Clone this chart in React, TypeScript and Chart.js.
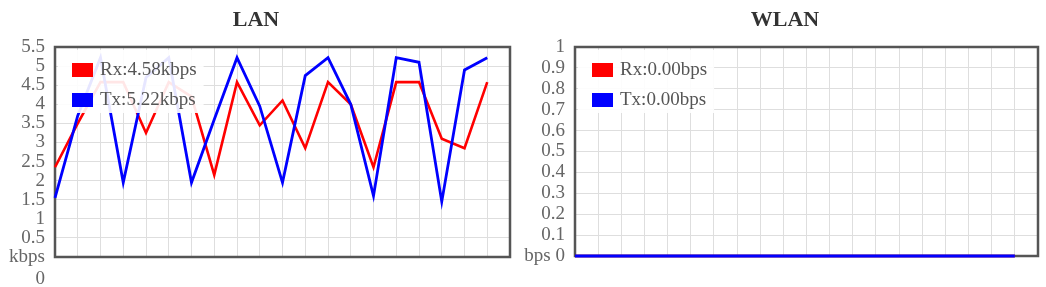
import { useEffect, useRef } from "react";
import { Chart, registerables } from "chart.js";

Chart.register(...registerables);

// ---- data ----
const xLabels = ["0", "1", "2", "3", "4", "5", "6", "7", "8", "9", "10", "11", "12", "13", "14", "15", "16", "17", "18", "19", "20"];

const lanRx = [2.35, 3.5, 4.58, 4.58, 3.25, 4.58, 4.2, 2.15, 4.58, 3.45, 4.1, 2.85, 4.58, 4.0, 2.35, 4.58, 4.58, 3.1, 2.85, 4.58];
const lanTx = [1.55, 3.7, 5.22, 1.95, 4.7, 5.22, 1.95, 3.6, 5.22, 3.95, 1.95, 4.75, 5.22, 4.0, 1.6, 5.22, 5.1, 1.45, 4.9, 5.22];

const wlanRx = [0, 0, 0, 0, 0, 0, 0, 0, 0, 0, 0, 0, 0, 0, 0, 0, 0, 0, 0, 0];
const wlanTx = [0, 0, 0, 0, 0, 0, 0, 0, 0, 0, 0, 0, 0, 0, 0, 0, 0, 0, 0, 0];

const lanTitle = "LAN";
const wlanTitle = "WLAN";
const lanUnit = "kbps";
const wlanUnit = "bps";
const lanYMax = 5.5;
const lanYStep = 0.5;
const wlanYMax = 1;
const wlanYStep = 0.1;

const SERIF = '"Liberation Serif", "Times New Roman", serif';
const RX_COLOR = "#ff0000";
const TX_COLOR = "#0000ff";
const GRID_COLOR = "#dedede";
const LABEL_COLOR = "#666666";

const titlePlugin = {
  id: "frameTitle",
  afterDraw(chart: any, _args: any, opts: any) {
    const ctx = chart.ctx;
    ctx.save();
    ctx.font = `bold 22px ${SERIF}`;
    ctx.fillStyle = "#333333";
    ctx.textAlign = "center";
    ctx.textBaseline = "middle";
    ctx.fillText(opts.text, opts.x, opts.y);
    ctx.restore();
  },
};

const framePlugin = {
  id: "plotFrame",
  beforeDatasetsDraw(chart: any) {
    const { ctx, chartArea } = chart;
    ctx.save();
    ctx.strokeStyle = "#555555";
    ctx.lineWidth = 2.5;
    ctx.strokeRect(chartArea.left, chartArea.top, chartArea.right - chartArea.left, chartArea.bottom - chartArea.top);
    ctx.restore();
  },
};

const innerLegendPlugin = {
  id: "innerLegend",
  afterDatasetsDraw(chart: any) {
    const { ctx, chartArea } = chart;
    const L = chartArea.left;
    const T = chartArea.top;
    const sets = chart.data.datasets;
    ctx.save();
    ctx.font = `19px ${SERIF}`;
    const textX = L + 45;
    let maxW = 0;
    sets.forEach((d: any) => {
      maxW = Math.max(maxW, ctx.measureText(d.label).width);
    });
    const boxX = L + 3;
    const boxW = textX + maxW + 7 - boxX;
    ctx.fillStyle = "rgba(255,255,255,0.9)";
    ctx.fillRect(boxX, T + 3, boxW, 63);
    sets.forEach((d: any, i: number) => {
      ctx.fillStyle = d.borderColor;
      ctx.fillRect(L + 17, T + 16 + i * 30, 21, 14);
      ctx.fillStyle = "#555555";
      ctx.textAlign = "left";
      ctx.textBaseline = "middle";
      ctx.fillText(d.label, textX, T + 23.5 + i * 30);
    });
    ctx.restore();
  },
};

function fmtTick(v: number) {
  return String(Math.round(v * 10) / 10);
}

function makeConfig(opts: {
  title: string;
  titleX: number;
  unit: string;
  rx: number[];
  tx: number[];
  yMax: number;
  yStep: number;
  padRight: number;
  xHeight: number;
  zeroLabel: any;
}) {
  return {
    type: "line" as const,
    data: {
      labels: xLabels,
      datasets: [
        {
          label: `Rx:${opts.rx[opts.rx.length - 1].toFixed(2)}${opts.unit}`,
          data: opts.rx,
          borderColor: RX_COLOR,
          backgroundColor: RX_COLOR,
          borderWidth: 2.6,
          pointRadius: 0,
          tension: 0,
          fill: false,
          clip: false,
          order: 2,
        },
        {
          label: `Tx:${opts.tx[opts.tx.length - 1].toFixed(2)}${opts.unit}`,
          data: opts.tx,
          borderColor: TX_COLOR,
          backgroundColor: TX_COLOR,
          borderWidth: 2.8,
          pointRadius: 0,
          tension: 0,
          fill: false,
          clip: false,
          order: 1,
        },
      ],
    },
    options: {
      responsive: false,
      animation: false as const,
      devicePixelRatio: 1,
      layout: { padding: { top: 47, right: opts.padRight, left: 0, bottom: 0 } },
      plugins: {
        legend: { display: false },
        tooltip: { enabled: false },
        title: { display: false },
        frameTitle: { text: opts.title, x: opts.titleX, y: 20 },
      },
      scales: {
        x: {
          type: "category" as const,
          offset: false,
          ticks: { display: false },
          grid: { color: GRID_COLOR, lineWidth: 1, drawTicks: false },
          border: { display: false },
          afterFit(s: any) {
            s.height = opts.xHeight;
            s.paddingLeft = 0;
            s.paddingRight = 0;
          },
        },
        y: {
          min: 0,
          max: opts.yMax,
          ticks: {
            stepSize: opts.yStep,
            autoSkip: false,
            padding: 10,
            color: LABEL_COLOR,
            font: { family: SERIF, size: 19, lineHeight: 22 / 19 },
            callback: (v: any) => (Math.abs(Number(v)) < 1e-9 ? opts.zeroLabel : fmtTick(Number(v))),
          },
          grid: { color: GRID_COLOR, lineWidth: 1, drawTicks: false },
          border: { display: false },
          afterFit(s: any) {
            s.width = 55;
            s.paddingTop = 0;
            s.paddingBottom = 0;
          },
        },
      },
    },
    plugins: [framePlugin, innerLegendPlugin, titlePlugin],
  };
}

function ChartCanvas(props: { width: number; height: number; left: number; config: any }) {
  const ref = useRef<HTMLCanvasElement | null>(null);
  useEffect(() => {
    if (!ref.current) return;
    const chart = new Chart(ref.current, props.config);
    return () => chart.destroy();
  }, []);
  return (
    <canvas
      ref={ref}
      width={props.width}
      height={props.height}
      style={{ position: "absolute", left: props.left, top: 0, width: props.width, height: props.height, display: "block" }}
    />
  );
}

export default function App() {
  const lanConfig = makeConfig({
    title: lanTitle,
    titleX: 256,
    unit: lanUnit,
    rx: lanRx,
    tx: lanTx,
    yMax: lanYMax,
    yStep: lanYStep,
    padRight: 10,
    xHeight: 30,
    zeroLabel: ["", lanUnit, "0"],
  });
  const wlanConfig = makeConfig({
    title: wlanTitle,
    titleX: 265,
    unit: wlanUnit,
    rx: wlanRx,
    tx: wlanTx,
    yMax: wlanYMax,
    yStep: wlanYStep,
    padRight: 8,
    xHeight: 31,
    zeroLabel: `${wlanUnit} 0`,
  });
  return (
    <div style={{ position: "absolute", left: 0, top: 0, width: 1046, height: 287, background: "#ffffff" }}>
      <ChartCanvas width={520} height={287} left={0} config={lanConfig} />
      <ChartCanvas width={526} height={287} left={520} config={wlanConfig} />
    </div>
  );
}
